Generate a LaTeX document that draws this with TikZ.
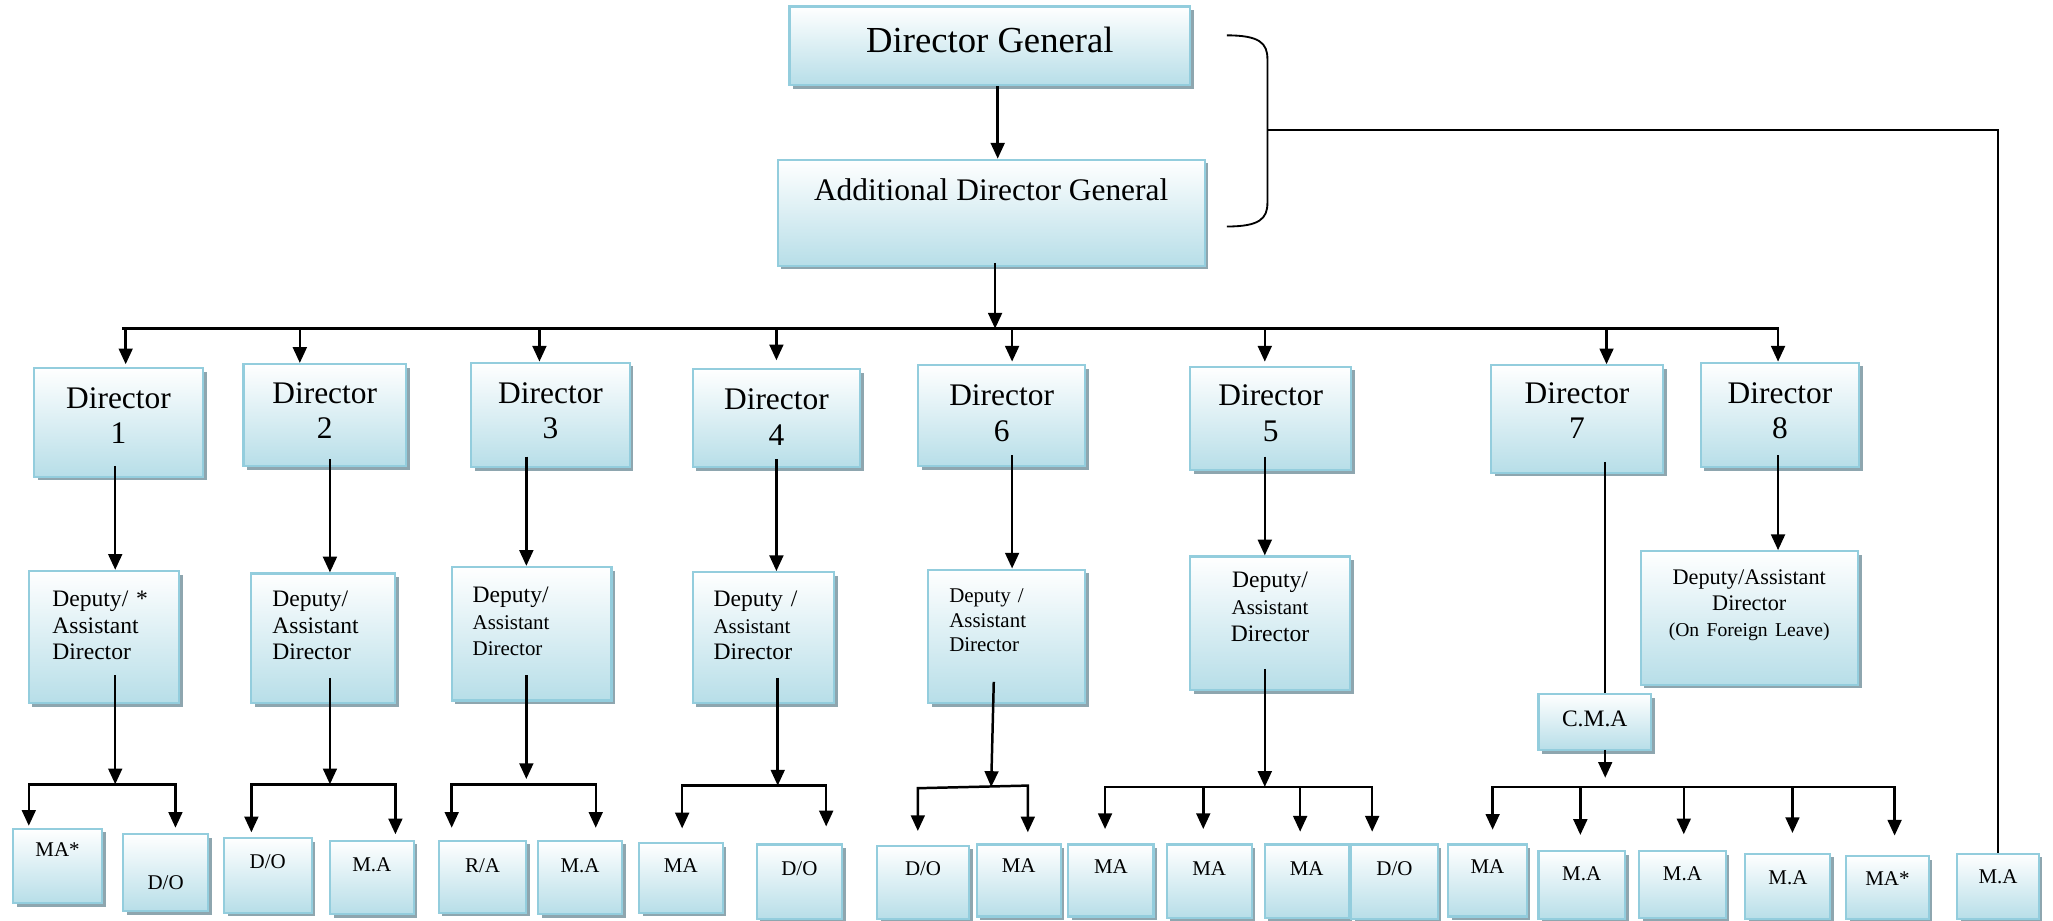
\documentclass[tikz,border=0pt]{standalone}
\usepackage{fontspec}
\setmainfont{Liberation Serif}
\usepackage{tikz}
\usetikzlibrary{arrows.meta,positioning,calc,shadows}
\definecolor{boxedge}{HTML}{93CDDD}
\definecolor{boxfill}{HTML}{B7DEE8}
\definecolor{boxshade}{HTML}{8EA6AF}

\tikzset{
  post/.style={rectangle,draw=boxedge,line width=1.6pt,top color=white,bottom color=boxfill,
    drop shadow={shadow xshift=2.8pt,shadow yshift=-2.8pt,fill=boxshade,opacity=1},inner sep=0pt},
  lift/.style={text height=0pt,text depth=#1pt},
  sink/.style={text depth=0pt,text height=#1pt},
  director/.style={font=\fontsize{24}{27}\selectfont,align=center,text width=100pt},
  deputy/.style={font=\fontsize{18}{20.5}\selectfont,align=left},
  staff/.style={font=\fontsize{16}{19}\selectfont},
  arr/.style={line width=1.9pt,->},
  arr2/.style={line width=1.9pt,<->},
  link/.style={line width=1.9pt},
  thin link/.style={line width=1.4pt}
}

\begin{document}
\begin{tikzpicture}[x=1pt,y=-1pt,>={Triangle[length=12pt,width=10.5pt]}]
\useasboundingbox (0,0) rectangle (1568,703);

\node[post,minimum width=306,minimum height=60,sink=10,font=\fontsize{28}{32}\selectfont] (dg) at (756,35) {Director General};
\node[post,minimum width=326,minimum height=81,lift=19,font=\fontsize{24}{28}\selectfont] (adg) at (757,162.5) {Additional Director General};

\foreach \n/\x/\y/\w/\h/\l in {1/90.5/322.5/129/83/21, 2/248/317/124/78/18, 3/420.5/317/121/80/18,
  4/593/319.5/128/75/13, 6/765/317.5/128/77/15, 5/970.5/319.5/123/79/19,
  7/1204.5/320/131/82/24, 8/1359.5/317/121/80/18}
  \node[post,director,minimum width=\w,minimum height=\h,lift=\l] (dir\n) at (\x,\y) {Director\\\n};

\node[post,deputy,minimum width=115,minimum height=101,text width=79pt,lift=47] (dep1) at (79.5,486.5) {Deputy/ *\\Assistant\\Director};
\node[post,deputy,minimum width=110,minimum height=99,text width=78pt,lift=49] (dep2) at (247,487.5) {Deputy/\\Assistant\\Director};
\node[post,deputy,minimum width=122,minimum height=102,text width=90pt,lift=48] (dep3) at (406,484)
  {Deputy/\\{\fontsize{16}{19}\selectfont Assistant}\\{\fontsize{16}{19}\selectfont Director}};
\node[post,deputy,minimum width=108,minimum height=100,text width=76pt,lift=48] (dep4) at (583,487)
  {Deputy /\\{\fontsize{16}{19}\selectfont Assistant}\\Director};
\node[post,deputy,font=\fontsize{16}{18.5}\selectfont,minimum width=120,minimum height=102,text width=88pt,lift=51] (dep6) at (769,486)
  {Deputy /\\Assistant\\Director};
\node[post,deputy,align=center,minimum width=122,minimum height=102,text width=110pt,lift=54] (dep5) at (970,476)
  {Deputy/\\{\fontsize{16}{19}\selectfont Assistant}\\Director};
\node[post,deputy,align=center,font=\fontsize{17}{20}\selectfont,minimum width=166,minimum height=102,text width=160pt,lift=51] (dep8) at (1336,472)
  {Deputy/Assistant\\Director\\{\fontsize{15}{18}\selectfont(On Foreign Leave)}};
\node[post,font=\fontsize{18}{21}\selectfont,minimum width=86,minimum height=43,sink=6] (cma) at (1218,551.5) {C.M.A};

\foreach \n/\x/\y/\w/\h/\t/\a/\b in {1/44/661.5/68/57/{MA*}/0/14, 2/126.5/666.5/65/59/{D/O}/26/0,
  3/204.5/668.5/67/57/{D/O}/0/10, 4/284/670/64/56/{M.A}/0/9, 5/368.5/669.5/67/55/{R/A}/0/6,
  6/443/670/64/56/{M.A}/0/7, 7/520/670.5/64/53/{MA}/0/8, 8/610.5/673.5/65/57/{D/O}/0/10,
  9/705/674/70/56/{D/O}/0/11, 10/778/672.5/64/55/{MA}/0/12, 11/848.5/672.5/65/55/{MA}/0/10,
  12/923.5/673/65/56/{MA}/0/9, 13/998/673/64/56/{MA}/0/9, 14/1065/673.5/66/57/{D/O}/0/10,
  15/1136/672.5/60/55/{MA}/0/10, 16/1208/676/66/52/{M.A}/0/7, 17/1285/675.5/66/51/{M.A}/0/6,
  18/1365.5/677/65/50/{M.A}/0/3, 19/1441.5/678/63/48/{MA*}/0/3, 20/1526/677/62/50/{M.A}/0/5}
  \node[post,staff,minimum width=\w,minimum height=\h,text height=\a pt,text depth=\b pt] (b\n) at (\x,\y) {\t};

\draw[arr] ([xshift=6pt]dg.south) -- ([xshift=5pt]adg.north);

\coordinate (busl) at (93,251);
\coordinate (busr) at (1359,251);
\coordinate (j0) at (760,251);
\draw[link] (busl) -- (busr);
\draw[arr] ([xshift=3pt,yshift=3pt]adg.south) -- (j0);
\foreach \x/\n/\s in {96/1/2,229/2/0,412/3/0,593/4/6,773/6/2,966/5/3,1227/7/0,1358/8/0} {
  \coordinate (tap\n) at (\x,251);
  \draw[arr,shorten >=\s pt] (tap\n) -- (tap\n |- dir\n.north);
}

\draw[arr] ([xshift=-2.5pt,yshift=9pt]dir1.south) -- ([xshift=8.5pt]dep1.north);
\draw[arr] ([xshift=4pt,yshift=6pt]dir2.south) -- ([xshift=5pt]dep2.north);
\draw[arr] ([xshift=-18.5pt,yshift=9pt]dir3.south) -- ([xshift=-4pt]dep3.north);
\draw[arr] ([yshift=7pt]dir4.south) -- ([xshift=10pt]dep4.north);
\draw[arr] ([xshift=8pt,yshift=9pt]dir6.south) -- ([xshift=4pt]dep6.north);
\draw[arr] ([xshift=-4.5pt,yshift=11pt]dir5.south) -- ([xshift=-4pt]dep5.north);
\draw[link] ([xshift=21.5pt,yshift=9pt]dir7.south) -- ([xshift=8pt]cma.north);
\draw[arr] ([xshift=-1.5pt,yshift=10pt]dir8.south) -- ([xshift=22pt]dep8.north);

\coordinate (j1) at (88,599);
\coordinate (k1a) at (22,599);
\coordinate (k1b) at (134,599);
\draw[arr] ([xshift=8.5pt,yshift=22pt]dep1.south) -- (j1);
\draw[arr2,shorten <=1.5pt,shorten >=4pt] (k1a |- b1.north) -- (k1a) -- (k1b) -- (k1b |- b2.north);

\coordinate (j2) at (252,599);
\coordinate (k2a) at (192,599);
\coordinate (k2b) at (302,599);
\draw[arr] ([xshift=5pt,yshift=20pt]dep2.south) -- (j2);
\draw[arr2,shorten <=3.5pt,shorten >=4pt] (k2a |- b3.north) -- (k2a) -- (k2b) -- (k2b |- b4.north);

\coordinate (j3) at (402,599);
\coordinate (k3a) at (345,599);
\coordinate (k3b) at (455,599);
\draw[arr,shorten >=4pt] ([xshift=-4pt,yshift=20pt]dep3.south) -- (j3);
\draw[arr2,shorten <=9pt,shorten >=9pt] (k3a |- b5.north) -- (k3a) -- (k3b) -- (k3b |- b6.north);

\coordinate (j4) at (594,600);
\coordinate (k4a) at (521,600);
\coordinate (k4b) at (631,600);
\draw[arr] ([xshift=11pt,yshift=20pt]dep4.south) -- (j4);
\draw[arr2,shorten <=10.5pt,shorten >=13pt] (k4a |- b7.north) -- (k4a) -- (k4b) -- (k4b |- b8.north);

\coordinate (j6) at (757,601);
\coordinate (k6a) at (701,602);
\coordinate (k6b) at (785,600);
\draw[arr] ([xshift=-10pt,yshift=17pt]dep6.south) -- (j6);
\draw[arr2,shorten <=10.5pt,shorten >=8.5pt] (k6a |- b9.north) -- (k6a) -- (k6b) -- (k6b |- b10.north);

\coordinate (j5) at (966,601);
\coordinate (k5a) at (844,601);
\coordinate (k5b) at (1048,601);
\coordinate (k5c) at (919,601);
\coordinate (k5d) at (993,601);
\draw[arr] ([xshift=-4pt,yshift=17pt]dep5.south) -- (j5);
\draw[arr2,shorten <=11pt,shorten >=9pt] (k5a |- b11.north) -- (k5a) -- (k5b) -- (k5b |- b14.north);
\draw[arr,shorten >=11pt] (k5c) -- (k5c |- b12.north);
\draw[arr,shorten >=9pt] (k5d) -- (k5d |- b13.north);

\coordinate (j7) at (1226,601);
\coordinate (k7a) at (1140,601);
\coordinate (k7b) at (1447,601);
\coordinate (k7c) at (1207,601);
\coordinate (k7d) at (1286,601);
\coordinate (k7e) at (1369,601);
\draw[arr,shorten >=7pt] ([xshift=8pt,yshift=1pt]cma.south) -- (j7);
\draw[arr2,shorten <=10.5pt,shorten >=15pt] (k7a |- b15.north) -- (k7a) -- (k7b) -- (k7b |- b19.north);
\draw[arr,shorten >=11.5pt] (k7c) -- (k7c |- b16.north);
\draw[arr,shorten >=12pt] (k7d) -- (k7d |- b17.north);
\draw[arr,shorten >=15pt] (k7e) -- (k7e |- b18.north);

\draw[thin link] (937,27) .. controls (962,27) and (968,33) .. (968,45) -- (968,155)
  .. controls (968,167) and (962,173) .. (937,173);
\coordinate (bmid) at (968,99);
\draw[thin link] (bmid) -| (b20.north);
\end{tikzpicture}
\end{document}
